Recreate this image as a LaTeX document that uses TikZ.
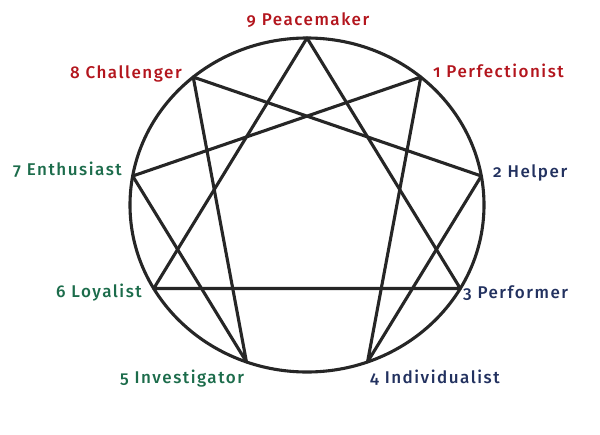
\documentclass[tikz,border=0pt]{standalone}
\usepackage{fontspec}
\setmainfont{Fira Sans}[Numbers=OldStyle,LetterSpace=9,BoldFont={* Medium}]
\definecolor{ered}{HTML}{B3151D}
\definecolor{eblue}{HTML}{22315F}
\definecolor{egreen}{HTML}{1C6C4B}
\definecolor{eline}{HTML}{262626}
\begin{document}
\begin{tikzpicture}[x=1pt,y=-1pt,
  lbl/.style={font=\fontsize{17}{20}\selectfont\bfseries, inner sep=0pt},
  edge/.style={draw=eline, line width=3.1pt, line join=round, line cap=round}]
\useasboundingbox (0,0) rectangle (600,434);
\def\cx{307}\def\cy{205}\def\rx{177}\def\ry{167}
\foreach \n/\a in {9/0,1/40,2/80,3/120,4/160,5/200,6/240,7/280,8/320}
  \coordinate (p\n) at ({\cx+\rx*sin(\a)},{\cy-\ry*cos(\a)});
\draw[edge] (\cx,\cy) ellipse [x radius=\rx, y radius=\ry];
\draw[edge] (p9) -- (p3) -- (p6) -- cycle;
\draw[edge] (p1) -- (p4) -- (p2) -- (p8) -- (p5) -- (p7) -- cycle;
\node[lbl, text=ered, anchor=base] (t9) at (308,25) {9 Peacemaker};
\node[lbl, text=ered, anchor=base east] (t8) at (182,78) {8 Challenger};
\node[lbl, text=ered, anchor=base west] (t1) at (433,77) {1 Perfectionist};
\node[lbl, text=egreen, anchor=base east] (t7) at (122,175) {7 Enthusiast};
\node[lbl, text=eblue, anchor=base west] (t2) at (493,177) {2 Helper};
\node[lbl, text=egreen, anchor=base east] (t6) at (142,297) {6 Loyalist};
\node[lbl, text=eblue, anchor=base west] (t3) at (463,298) {3 Performer};
\node[lbl, text=egreen, anchor=base west] (t5) at (120,383) {5 Investigator};
\node[lbl, text=eblue, anchor=base west] (t4) at (370,383) {4 Individualist};
\end{tikzpicture}
\end{document}
